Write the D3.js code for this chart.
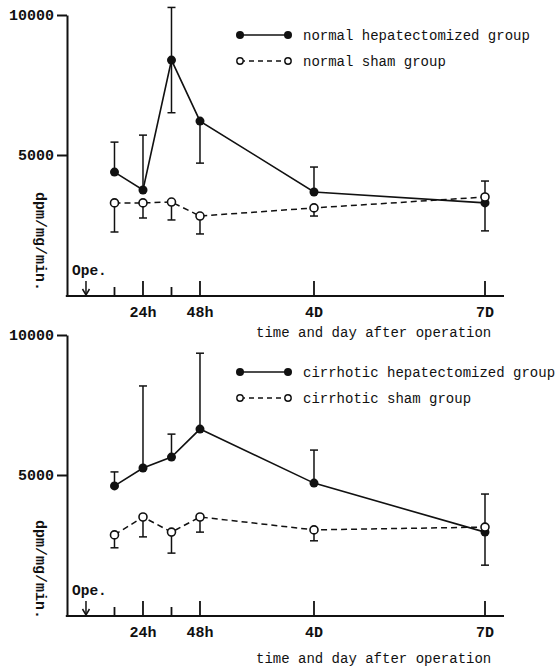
<!DOCTYPE html>
<html>
<head>
<meta charset="utf-8">
<script src="https://cdn.jsdelivr.net/npm/d3@7"></script>
<style>
  body { margin: 0; background: #fff; }
  text { font-family: "Liberation Mono", "DejaVu Sans Mono", monospace; fill: #111; }
</style>
</head>
<body>
<svg id="chart" width="559" height="670"></svg>
<script>
// sampling times, hours after operation
const hours = [12, 24, 36, 48, 96, 168];
const minorHours = [12, 36];
const labelHours = [24, 48, 96, 168];
const labelText = ["24h", "48h", "4D", "7D"];
const yTicks = [5000, 10000];

// normal liver
const normalHepMean = [4390, 3750, 8390, 6210, 3680, 3290];
const normalHepSd = [1070, 1960, 1880, 1500, 890, 1000];
const normalHepBar = ["up", "up", "both", "down", "up", "down"];
const normalShamMean = [3290, 3290, 3320, 2820, 3110, 3500];
const normalShamSd = [1040, 540, 640, 640, 290, 570];
const normalShamBar = ["down", "down", "down", "down", "down", "up"];

// cirrhotic liver
const cirrHepMean = [4610, 5250, 5640, 6640, 4710, 2960];
const cirrHepSd = [500, 2930, 820, 2710, 1180, 1180];
const cirrHepBar = ["up", "up", "up", "up", "up", "down"];
const cirrShamMean = [2860, 3500, 2960, 3500, 3040, 3140];
const cirrShamSd = [460, 710, 750, 540, 390, 1180];
const cirrShamBar = ["down", "down", "down", "down", "down", "up"];

const legendNames = [
  ["normal hepatectomized group", "normal sham group"],
  ["cirrhotic hepatectomized group", "cirrhotic sham group"]
];

const svg = d3.select("#chart");

const x = d3.scaleLinear().domain([-8.5, 176]).range([65.8, 504]);

function series(mean, sd, bar) {
  return hours.map((h, i) => ({ h: h, v: mean[i], sd: sd[i], bar: bar[i] }));
}

const panels = [
  { top: 15, bottom: 295, legendY: 35, labelY: 192, titleY: 337, names: legendNames[0],
    hep: series(normalHepMean, normalHepSd, normalHepBar),
    sham: series(normalShamMean, normalShamSd, normalShamBar) },
  { top: 335, bottom: 615, legendY: 372, labelY: 520, titleY: 663, names: legendNames[1],
    hep: series(cirrHepMean, cirrHepSd, cirrHepBar),
    sham: series(cirrShamMean, cirrShamSd, cirrShamBar) }
];

function drawPanel(p) {
  const g = svg.append("g");
  const y = d3.scaleLinear().domain([0, 10000]).range([p.bottom, p.top]);

  // y axis
  const yAxis = d3.axisLeft(y).tickValues(yTicks).tickSize(10).tickSizeOuter(0)
    .tickFormat(d3.format("d"));
  const ya = g.append("g").attr("transform", "translate(67,0)").call(yAxis);
  ya.select(".domain").attr("stroke", "#111").attr("stroke-width", 2);
  ya.selectAll(".tick line").attr("stroke", "#111").attr("stroke-width", 2);
  ya.selectAll(".tick text")
    .attr("x", -13)
    .style("font-family", "'Liberation Mono', monospace")
    .style("font-size", "15px").style("font-weight", "bold").attr("fill", "#111");

  // x axis line
  const axisY = p.bottom + 1;
  g.append("line")
    .attr("x1", x.range()[0]).attr("x2", x.range()[1])
    .attr("y1", axisY).attr("y2", axisY)
    .attr("stroke", "#111").attr("stroke-width", 2);

  // x ticks, pointing up
  g.selectAll(".xtick").data(hours).enter().append("line")
    .attr("x1", d => x(d)).attr("x2", d => x(d))
    .attr("y1", axisY)
    .attr("y2", d => axisY - (minorHours.includes(d) ? 9 : 15))
    .attr("stroke", "#111").attr("stroke-width", 1.8);

  g.selectAll(".xlab").data(labelHours).enter().append("text")
    .attr("x", d => x(d)).attr("y", axisY + 21)
    .attr("text-anchor", "middle")
    .style("font-size", "15px").style("font-weight", "bold")
    .text((d, i) => labelText[i]);

  // operation marker at 0 h
  g.append("text").attr("x", x(0) - 14).attr("y", axisY - 21)
    .style("font-size", "14.5px").style("font-weight", "bold").text("Ope.");
  g.append("line")
    .attr("x1", x(0)).attr("x2", x(0))
    .attr("y1", axisY - 15).attr("y2", axisY - 2)
    .attr("stroke", "#111").attr("stroke-width", 1.5);
  g.append("path")
    .attr("d", `M${x(0) - 3.5},${axisY - 7} L${x(0)},${axisY - 1} L${x(0) + 3.5},${axisY - 7}`)
    .attr("fill", "none").attr("stroke", "#111").attr("stroke-width", 1.5);

  // y label
  g.append("text")
    .attr("transform", `translate(36,${p.labelY}) rotate(90)`)
    .style("font-size", "15px").style("font-weight", "bold")
    .text("dpm/mg/min.");

  // x title
  g.append("text").attr("x", 256).attr("y", p.titleY)
    .style("font-size", "14px").text("time and day after operation");

  const line = d3.line().x(d => x(d.h)).y(d => y(d.v));

  function errorBars(data) {
    const e = g.append("g").attr("stroke", "#111").attr("stroke-width", 1.5);
    data.forEach(d => {
      const hi = d.bar === "down" ? d.v : d.v + d.sd;
      const lo = d.bar === "up" ? d.v : d.v - d.sd;
      e.append("line").attr("x1", x(d.h)).attr("x2", x(d.h))
        .attr("y1", y(hi)).attr("y2", y(lo));
      if (d.bar !== "down") {
        e.append("line").attr("x1", x(d.h) - 4).attr("x2", x(d.h) + 4)
          .attr("y1", y(hi)).attr("y2", y(hi));
      }
      if (d.bar !== "up") {
        e.append("line").attr("x1", x(d.h) - 4).attr("x2", x(d.h) + 4)
          .attr("y1", y(lo)).attr("y2", y(lo));
      }
    });
  }

  // hepatectomized: solid line, filled dots
  g.append("path").datum(p.hep).attr("d", line)
    .attr("fill", "none").attr("stroke", "#111").attr("stroke-width", 1.6);
  errorBars(p.hep);
  g.selectAll(".hepdot").data(p.hep).enter().append("circle")
    .attr("cx", d => x(d.h)).attr("cy", d => y(d.v)).attr("r", 4.5)
    .attr("fill", "#111");

  // sham: dashed line, open dots
  g.append("path").datum(p.sham).attr("d", line)
    .attr("fill", "none").attr("stroke", "#111").attr("stroke-width", 1.5)
    .attr("stroke-dasharray", "6,4");
  errorBars(p.sham);
  g.selectAll(".shamdot").data(p.sham).enter().append("circle")
    .attr("cx", d => x(d.h)).attr("cy", d => y(d.v)).attr("r", 4)
    .attr("fill", "#fff").attr("stroke", "#111").attr("stroke-width", 1.6);

  // legend
  const lg = g.append("g");
  const ly = p.legendY;
  lg.append("line").attr("x1", 240).attr("x2", 288).attr("y1", ly).attr("y2", ly)
    .attr("stroke", "#111").attr("stroke-width", 1.5);
  [240, 288].forEach(cx => lg.append("circle").attr("cx", cx).attr("cy", ly).attr("r", 4).attr("fill", "#111"));
  lg.append("text").attr("x", 303).attr("y", ly + 4.5).style("font-size", "14px").text(p.names[0]);

  const ly2 = ly + 26;
  lg.append("line").attr("x1", 240).attr("x2", 288).attr("y1", ly2).attr("y2", ly2)
    .attr("stroke", "#111").attr("stroke-width", 1.5).attr("stroke-dasharray", "5,4");
  [240, 288].forEach(cx => lg.append("circle").attr("cx", cx).attr("cy", ly2).attr("r", 3.2)
    .attr("fill", "#fff").attr("stroke", "#111").attr("stroke-width", 1.4));
  lg.append("text").attr("x", 303).attr("y", ly2 + 4.5).style("font-size", "14px").text(p.names[1]);
}

panels.forEach(drawPanel);
</script>
</body>
</html>
